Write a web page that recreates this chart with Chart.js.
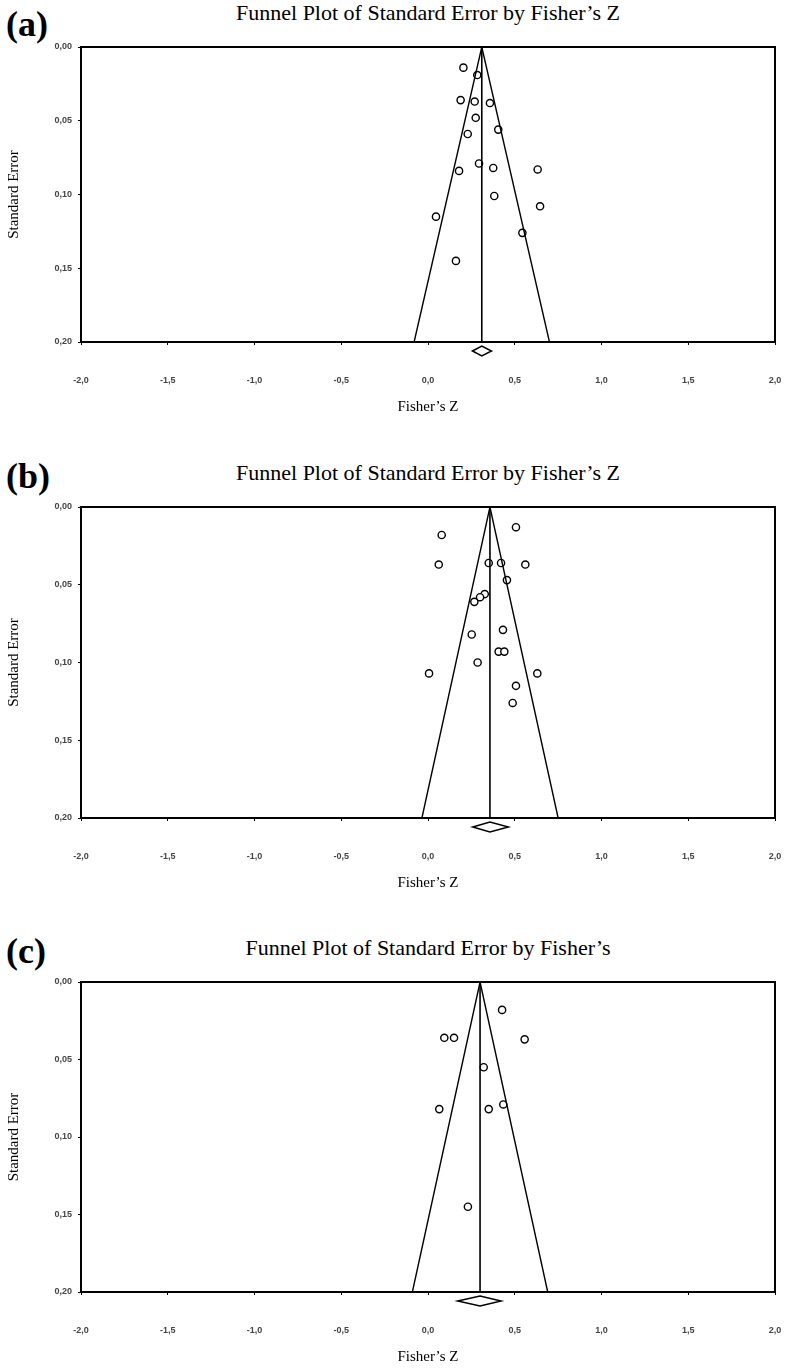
<!DOCTYPE html>
<html>
<head>
<meta charset="utf-8">
<script src="https://cdn.jsdelivr.net/npm/chart.js@4/dist/chart.umd.min.js"></script>
<style>
    body { margin: 0; background: #fff; width: 785px; height: 1370px; position: relative; overflow: hidden; }
    canvas { position: absolute; left: 0; }
    .title { position: absolute; left: 81px; width: 694px; text-align: center; font-family: "Liberation Serif", serif; font-size: 22px; line-height: 22px; color: #000; white-space: nowrap; }
    .tag { position: absolute; left: 6px; font-family: "Liberation Serif", serif; font-weight: bold; font-size: 36px; line-height: 36px; color: #000; }
</style>
</head>
<body>
<div class="tag" style="top:6px">(a)</div>
<div class="title" style="top:2px">Funnel Plot of Standard Error by Fisher’s Z</div>
<canvas id="chartA" width="785" height="420" style="top:0px"></canvas>

<div class="tag" style="top:458px">(b)</div>
<div class="title" style="top:462px">Funnel Plot of Standard Error by Fisher’s Z</div>
<canvas id="chartB" width="785" height="436" style="top:460px"></canvas>

<div class="tag" style="top:933px">(c)</div>
<div class="title" style="top:937px">Funnel Plot of Standard Error by Fisher’s</div>
<canvas id="chartC" width="785" height="435" style="top:935px"></canvas>

<script>
// axis ticks
const xTicks = [-2.0, -1.5, -1.0, -0.5, 0.0, 0.5, 1.0, 1.5, 2.0];
const yTicks = [0.00, 0.05, 0.10, 0.15, 0.20];

// panel (a)
const zA = [0.204, 0.284, 0.188, 0.269, 0.357, 0.275, 0.405, 0.229, 0.294, 0.376, 0.632, 0.179, 0.382, 0.646, 0.046, 0.544, 0.161];
const seA = [0.014, 0.019, 0.036, 0.037, 0.038, 0.048, 0.056, 0.059, 0.079, 0.082, 0.083, 0.084, 0.101, 0.108, 0.115, 0.126, 0.145];
const meanA = 0.31;
const funnelA = [-0.08, 0.70];
const diamondA = [0.256, 0.366];

// panel (b)
const zB = [0.507, 0.079, 0.062, 0.350, 0.421, 0.561, 0.455, 0.327, 0.300, 0.267, 0.432, 0.252, 0.407, 0.440, 0.286, 0.006, 0.630, 0.507, 0.488];
const seB = [0.013, 0.018, 0.037, 0.036, 0.036, 0.037, 0.047, 0.056, 0.058, 0.061, 0.079, 0.082, 0.093, 0.093, 0.100, 0.107, 0.107, 0.115, 0.126];
const meanB = 0.357;
const funnelB = [-0.035, 0.75];
const diamondB = [0.258, 0.463];

// panel (c)
const zC = [0.427, 0.094, 0.150, 0.557, 0.321, 0.065, 0.350, 0.434, 0.230];
const seC = [0.018, 0.036, 0.036, 0.037, 0.055, 0.082, 0.082, 0.079, 0.145];
const meanC = 0.30;
const funnelC = [-0.09, 0.69];
const diamondC = [0.171, 0.421];

Chart.defaults.font.family = '"Liberation Sans", Arial, sans-serif';

// box round the plot area
const framePlugin = {
    id: 'frame',
    beforeDatasetsDraw(chart) {
        const { ctx, chartArea } = chart;
        ctx.save();
        ctx.strokeStyle = '#000';
        ctx.lineWidth = 2;
        ctx.strokeRect(chartArea.left, chartArea.top, chartArea.right - chartArea.left, chartArea.bottom - chartArea.top);
        ctx.restore();
    }
};

// summary diamond under the x axis
const diamondPlugin = {
    id: 'diamond',
    afterDraw(chart, args, opts) {
        if (!opts.range) return;
        const { ctx, chartArea } = chart;
        const x = chart.scales.x;
        const lo = x.getPixelForValue(opts.range[0]);
        const hi = x.getPixelForValue(opts.range[1]);
        const mid = x.getPixelForValue(opts.mean);
        const cy = chartArea.bottom + 9;
        ctx.save();
        ctx.beginPath();
        ctx.moveTo(lo, cy);
        ctx.lineTo(mid, cy - 5);
        ctx.lineTo(hi, cy);
        ctx.lineTo(mid, cy + 5);
        ctx.closePath();
        ctx.fillStyle = '#fff';
        ctx.fill();
        ctx.strokeStyle = '#000';
        ctx.lineWidth = 1.5;
        ctx.stroke();
        ctx.restore();
    }
};

function makeFunnel(id, z, se, mean, funnel, diamond, plotH) {
    const canvas = document.getElementById(id);
    const seMax = yTicks[yTicks.length - 1];
    const tickFont = { size: 9, weight: 'bold' };
    const titleFont = { family: '"Liberation Serif", serif', size: 15 };

    return new Chart(canvas, {
        type: 'scatter',
        data: {
            datasets: [
                {
                    data: [{ x: mean, y: 0 }, { x: mean, y: seMax }],
                    showLine: true, borderColor: '#000', borderWidth: 1.6, pointRadius: 0
                },
                {
                    data: [{ x: funnel[0], y: seMax }, { x: mean, y: 0 }, { x: funnel[1], y: seMax }],
                    showLine: true, borderColor: '#000', borderWidth: 1.4, pointRadius: 0
                },
                {
                    data: z.map((v, i) => ({ x: v, y: se[i] })),
                    pointStyle: 'circle', pointRadius: 3.6, borderWidth: 1.4,
                    borderColor: '#000', backgroundColor: '#fff'
                }
            ]
        },
        options: {
            responsive: false,
            animation: false,
            layout: { padding: { top: 47, left: 0, right: 10, bottom: 4 } },
            plugins: {
                legend: { display: false },
                tooltip: { enabled: false },
                diamond: { range: diamond, mean: mean }
            },
            scales: {
                x: {
                    type: 'linear', min: -2, max: 2,
                    afterBuildTicks: s => { s.ticks = xTicks.map(v => ({ value: v })); },
                    afterFit: s => {
                        s.height = canvas.height - 4 - 47 - plotH;
                        // the big label padding should not eat into the sides
                        s.paddingLeft = 0;
                        s.paddingRight = 0;
                    },
                    ticks: {
                        color: '#444', font: tickFont, padding: 30, maxRotation: 0,
                        callback: v => v.toFixed(1).replace('.', ',')
                    },
                    grid: { drawOnChartArea: false, drawTicks: true, tickLength: 3, color: '#000' },
                    border: { display: true, color: '#000', width: 2 },
                    title: { display: true, text: 'Fisher’s Z', color: '#000', font: titleFont, padding: { top: 0, bottom: 0 } }
                },
                y: {
                    type: 'linear', min: 0, max: seMax, reverse: true,
                    afterBuildTicks: s => { s.ticks = yTicks.map(v => ({ value: v })); },
                    afterFit: s => { s.width = 81; },
                    ticks: {
                        color: '#444', font: tickFont, padding: 6,
                        callback: v => v.toFixed(2).replace('.', ',')
                    },
                    grid: { drawOnChartArea: false, drawTicks: true, tickLength: 3, color: '#000' },
                    border: { display: true, color: '#000', width: 2 },
                    title: { display: true, text: 'Standard Error', color: '#000', font: titleFont, padding: { top: 5, bottom: 0 } }
                }
            }
        },
        plugins: [framePlugin, diamondPlugin]
    });
}

makeFunnel('chartA', zA, seA, meanA, funnelA, diamondA, 295);
makeFunnel('chartB', zB, seB, meanB, funnelB, diamondB, 311);
makeFunnel('chartC', zC, seC, meanC, funnelC, diamondC, 310);
</script>
</body>
</html>
